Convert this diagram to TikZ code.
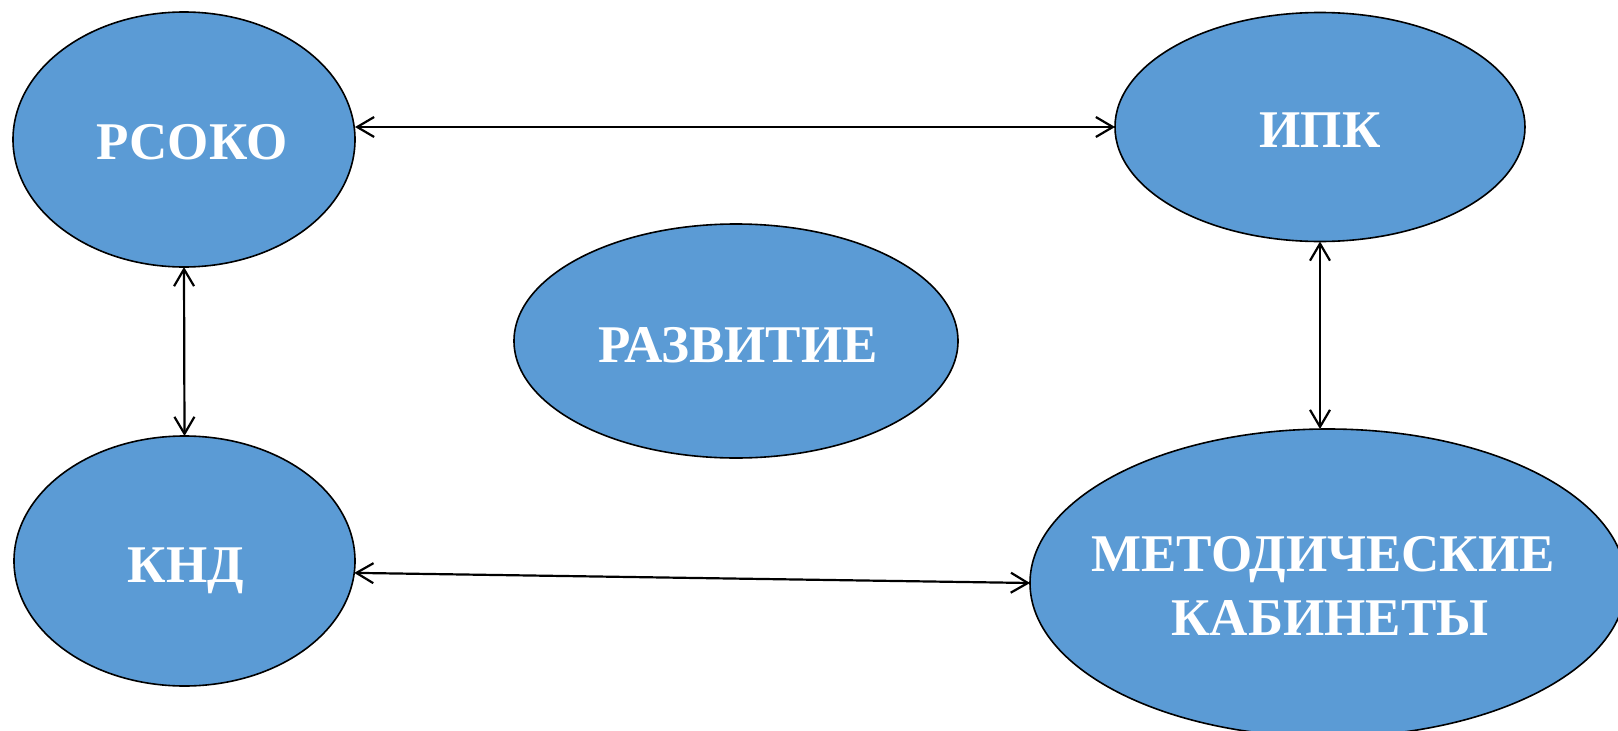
\documentclass[tikz,border=0pt]{standalone}
\usepackage{fontspec}
\setmainfont{Liberation Serif}
\usetikzlibrary{shapes.geometric,arrows.meta}
\definecolor{nodeblue}{RGB}{91,155,213}
\begin{document}
\begin{tikzpicture}[x=1pt,y=-1pt,
  oval/.style={ellipse,draw=black,line width=1.6pt,fill=nodeblue,inner sep=0pt,outer sep=0pt},
  lbl/.style={text=white,font=\fontsize{53}{64}\selectfont\bfseries,inner sep=0pt,anchor=base},
  link/.style={line width=2.2pt,{Straight Barb[length=17pt,width=20pt,line width=2.2pt]}-{Straight Barb[length=17pt,width=20pt,line width=2.2pt]}}]
\useasboundingbox (0,0) rectangle (1618,731);
\clip (0,0) rectangle (1618,731);
\node[oval,minimum width=342pt,minimum height=255pt] (rsoko) at (184,139.5) {};
\node[oval,minimum width=410pt,minimum height=229pt] (ipk) at (1320,127) {};
\node[oval,minimum width=444pt,minimum height=234pt] (razv) at (736,341) {};
\node[oval,minimum width=341pt,minimum height=250pt] (knd) at (184.5,561) {};
\node[oval,minimum width=596pt,minimum height=308pt] (met) at (1328,583) {};
\node[lbl] (trsoko) at (192,159) {РСОКО};
\node[lbl] (tipk) at (1320,147) {ИПК};
\node[lbl] (trazv) at (738,362) {РАЗВИТИЕ};
\node[lbl] (tknd) at (186,582) {КНД};
\node[lbl] (tmet1) at (1323,571) {МЕТОДИЧЕСКИЕ};
\node[lbl] (tmet2) at (1330,635) {КАБИНЕТЫ};
\draw[link] (ipk.west -| rsoko.east) -- (ipk.west);
\draw[link] (rsoko.south) -- (knd.north);
\draw[link] (ipk.south) -- (ipk.south |- met.north);
\draw[link] (knd.-4.4) -- (met.west);
\end{tikzpicture}
\end{document}
